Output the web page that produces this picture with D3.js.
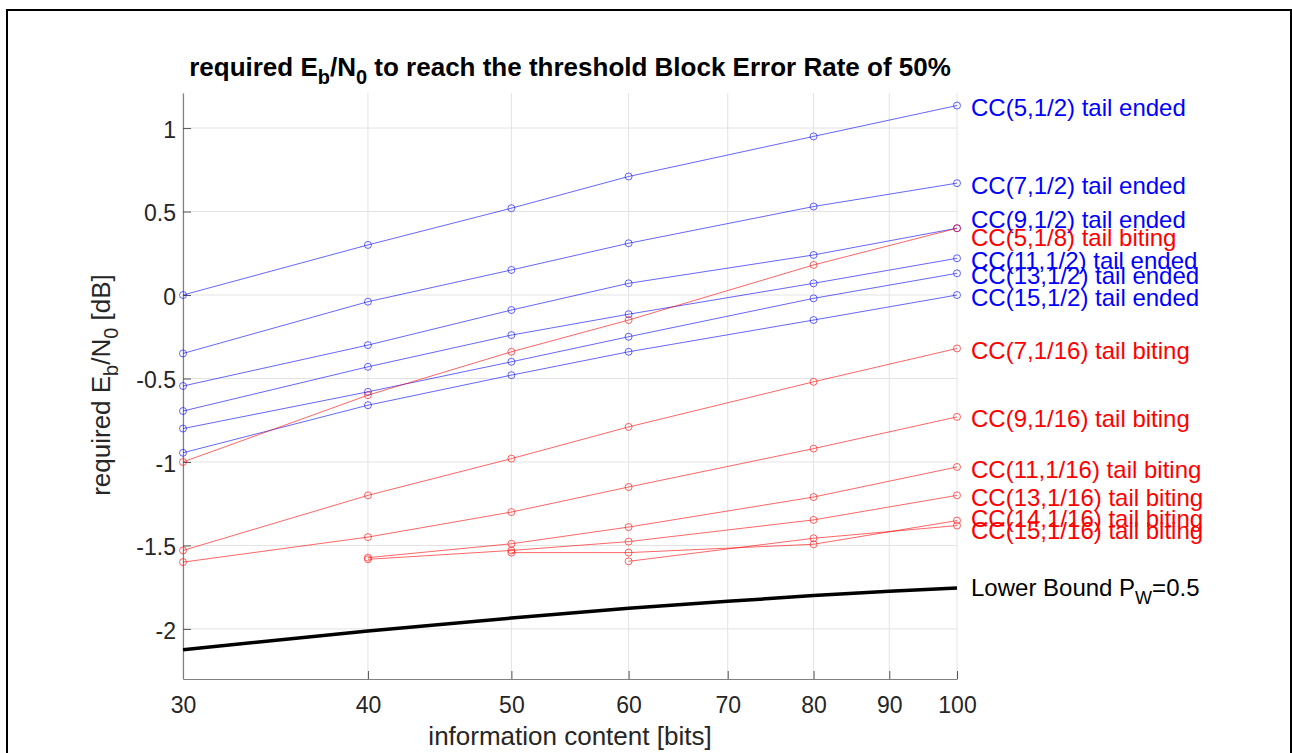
<!DOCTYPE html>
<html>
<head>
<meta charset="utf-8">
<script src="https://cdn.jsdelivr.net/npm/d3@7"></script>
<style>
  body { margin: 0; background: #fff; }
  text { font-family: "Liberation Sans", Arial, Helvetica, sans-serif; }
</style>
</head>
<body>
<div id="chart"></div>
<script>
// data
var xBits = [30, 40, 50, 60, 80, 100];

var endedNames = ["CC(5,1/2) tail ended", "CC(7,1/2) tail ended", "CC(9,1/2) tail ended",
  "CC(11,1/2) tail ended", "CC(13,1/2) tail ended", "CC(15,1/2) tail ended"];
var endedValues = [
  [0.00, 0.30, 0.52, 0.71, 0.95, 1.135],
  [-0.35, -0.04, 0.15, 0.31, 0.53, 0.67],
  [-0.545, -0.30, -0.09, 0.07, 0.24, 0.40],
  [-0.695, -0.43, -0.24, -0.115, 0.07, 0.22],
  [-0.80, -0.58, -0.40, -0.25, -0.02, 0.13],
  [-0.945, -0.66, -0.48, -0.34, -0.15, 0.00]
];

var bitingNames = ["CC(5,1/8) tail biting", "CC(7,1/16) tail biting", "CC(9,1/16) tail biting",
  "CC(11,1/16) tail biting", "CC(13,1/16) tail biting", "CC(14,1/16) tail biting", "CC(15,1/16) tail biting"];
var bitingValues = [
  [-1.00, -0.60, -0.34, -0.15, 0.18, 0.40],
  [-1.53, -1.20, -0.98, -0.79, -0.52, -0.32],
  [-1.60, -1.45, -1.30, -1.15, -0.92, -0.73],
  [null, -1.573, -1.49, -1.39, -1.21, -1.03],
  [null, -1.583, -1.53, -1.477, -1.347, -1.20],
  [null, null, -1.543, -1.543, -1.493, -1.351],
  [null, null, null, -1.595, -1.457, -1.381]
];

var boundBits = [30, 40, 50, 60, 70, 80, 90, 100];
var boundValues = [-2.125, -2.012, -1.935, -1.876, -1.835, -1.80, -1.775, -1.755];

var xTicks = [30, 40, 50, 60, 70, 80, 90, 100];
var yTicks = [-2, -1.5, -1, -0.5, 0, 0.5, 1];

// label nudges (px) where the text would overlap
var endedNudge = [0, 0, -10.5, 0, 0, 0];
var bitingNudge = [7, 0, 0, 0, 0, -4.5, 2.5];

var W = 1292, H = 753;
var svg = d3.select("#chart").append("svg").attr("width", W).attr("height", H);

// figure frame
svg.append("rect").attr("x", 7).attr("y", 10).attr("width", 1284).attr("height", 770)
  .attr("fill", "none").attr("stroke", "#000").attr("stroke-width", 2);

var x = d3.scaleLog().domain([30, 100]).range([183, 957]);
var y = d3.scaleLinear().domain([-2.3, 1.21]).range([679, 93]);

// grid
svg.append("g").selectAll("line").data(xTicks).join("line")
  .attr("x1", d => x(d)).attr("x2", d => x(d)).attr("y1", y(-2.3)).attr("y2", y(1.21))
  .attr("stroke", "#e3e3e3").attr("stroke-width", 1);
svg.append("g").selectAll("line").data(yTicks).join("line")
  .attr("x1", x(30)).attr("x2", x(100)).attr("y1", d => y(d)).attr("y2", d => y(d))
  .attr("stroke", "#e3e3e3").attr("stroke-width", 1);

// axes, ticks inward like matlab
var xAxis = svg.append("g").attr("transform", "translate(0," + y(-2.3) + ")")
  .call(d3.axisBottom(x).tickValues(xTicks).tickFormat(d3.format("d")).tickSizeInner(-8).tickSizeOuter(0).tickPadding(18));
var yAxis = svg.append("g").attr("transform", "translate(" + x(30) + ",0)")
  .call(d3.axisLeft(y).tickValues(yTicks).tickFormat(d => String(d)).tickSizeInner(-8).tickSizeOuter(0).tickPadding(7));
[xAxis, yAxis].forEach(function(a) {
  a.select(".domain").attr("stroke", "#808080").attr("stroke-width", 1.2);
  a.selectAll(".tick line").attr("stroke", "#555");
  a.selectAll(".tick text").attr("fill", "#262626").style("font-size", "23px")
    .style("font-family", "'Liberation Sans', Arial, sans-serif");
});
yAxis.selectAll(".tick text").attr("dy", "0.4em");

var line = d3.line().defined(d => d[1] != null).x(d => x(d[0])).y(d => y(d[1]));

function drawSeries(names, values, color, nudges) {
  values.forEach(function(vals, i) {
    var pts = xBits.map((b, j) => [b, vals[j]]);
    var g = svg.append("g");
    g.append("path").datum(pts).attr("d", line).attr("fill", "none")
      .attr("stroke", color).attr("stroke-opacity", 0.6).attr("stroke-width", 1);
    g.selectAll("circle").data(pts.filter(p => p[1] != null)).join("circle")
      .attr("cx", d => x(d[0])).attr("cy", d => y(d[1])).attr("r", 3.5)
      .attr("fill", "none").attr("stroke", color).attr("stroke-opacity", 0.6).attr("stroke-width", 1);
    var last = vals[vals.length - 1];
    g.append("text").attr("x", x(100) + 14).attr("y", y(last) + 2 + nudges[i] + 8.6)
      .attr("fill", color).style("font-size", "24px").text(names[i]);
  });
}
drawSeries(endedNames, endedValues, "#0000ff", endedNudge);
drawSeries(bitingNames, bitingValues, "#ff0000", bitingNudge);

// lower bound
var bpts = boundBits.map((b, j) => [b, boundValues[j]]);
svg.append("path").datum(bpts).attr("d", line).attr("fill", "none")
  .attr("stroke", "#000").attr("stroke-width", 3.5);
var lb = svg.append("text").attr("x", x(100) + 14).attr("y", y(boundValues[boundValues.length - 1]) + 8)
  .attr("fill", "#000").style("font-size", "24px");
lb.append("tspan").text("Lower Bound P");
lb.append("tspan").attr("dy", 8).style("font-size", "18px").text("W");
lb.append("tspan").attr("dy", -8).text("=0.5");

// title
var t = svg.append("text").attr("x", 570).attr("y", 76).attr("text-anchor", "middle")
  .attr("fill", "#000").style("font-size", "26px").style("font-weight", "bold");
t.append("tspan").text("required E");
t.append("tspan").attr("dy", 8).style("font-size", "20px").text("b");
t.append("tspan").attr("dy", -8).text("/N");
t.append("tspan").attr("dy", 8).style("font-size", "20px").text("0");
t.append("tspan").attr("dy", -8).text(" to reach the threshold Block Error Rate of 50%");

// axis labels
svg.append("text").attr("x", 570).attr("y", 745).attr("text-anchor", "middle")
  .attr("fill", "#262626").style("font-size", "26px").text("information content [bits]");
var yl = svg.append("text").attr("transform", "translate(110,385) rotate(-90)")
  .attr("text-anchor", "middle").attr("fill", "#262626").style("font-size", "26px");
yl.append("tspan").text("required E");
yl.append("tspan").attr("dy", 8).style("font-size", "20px").text("b");
yl.append("tspan").attr("dy", -8).text("/N");
yl.append("tspan").attr("dy", 8).style("font-size", "20px").text("0");
yl.append("tspan").attr("dy", -8).text(" [dB]");
</script>
</body>
</html>
